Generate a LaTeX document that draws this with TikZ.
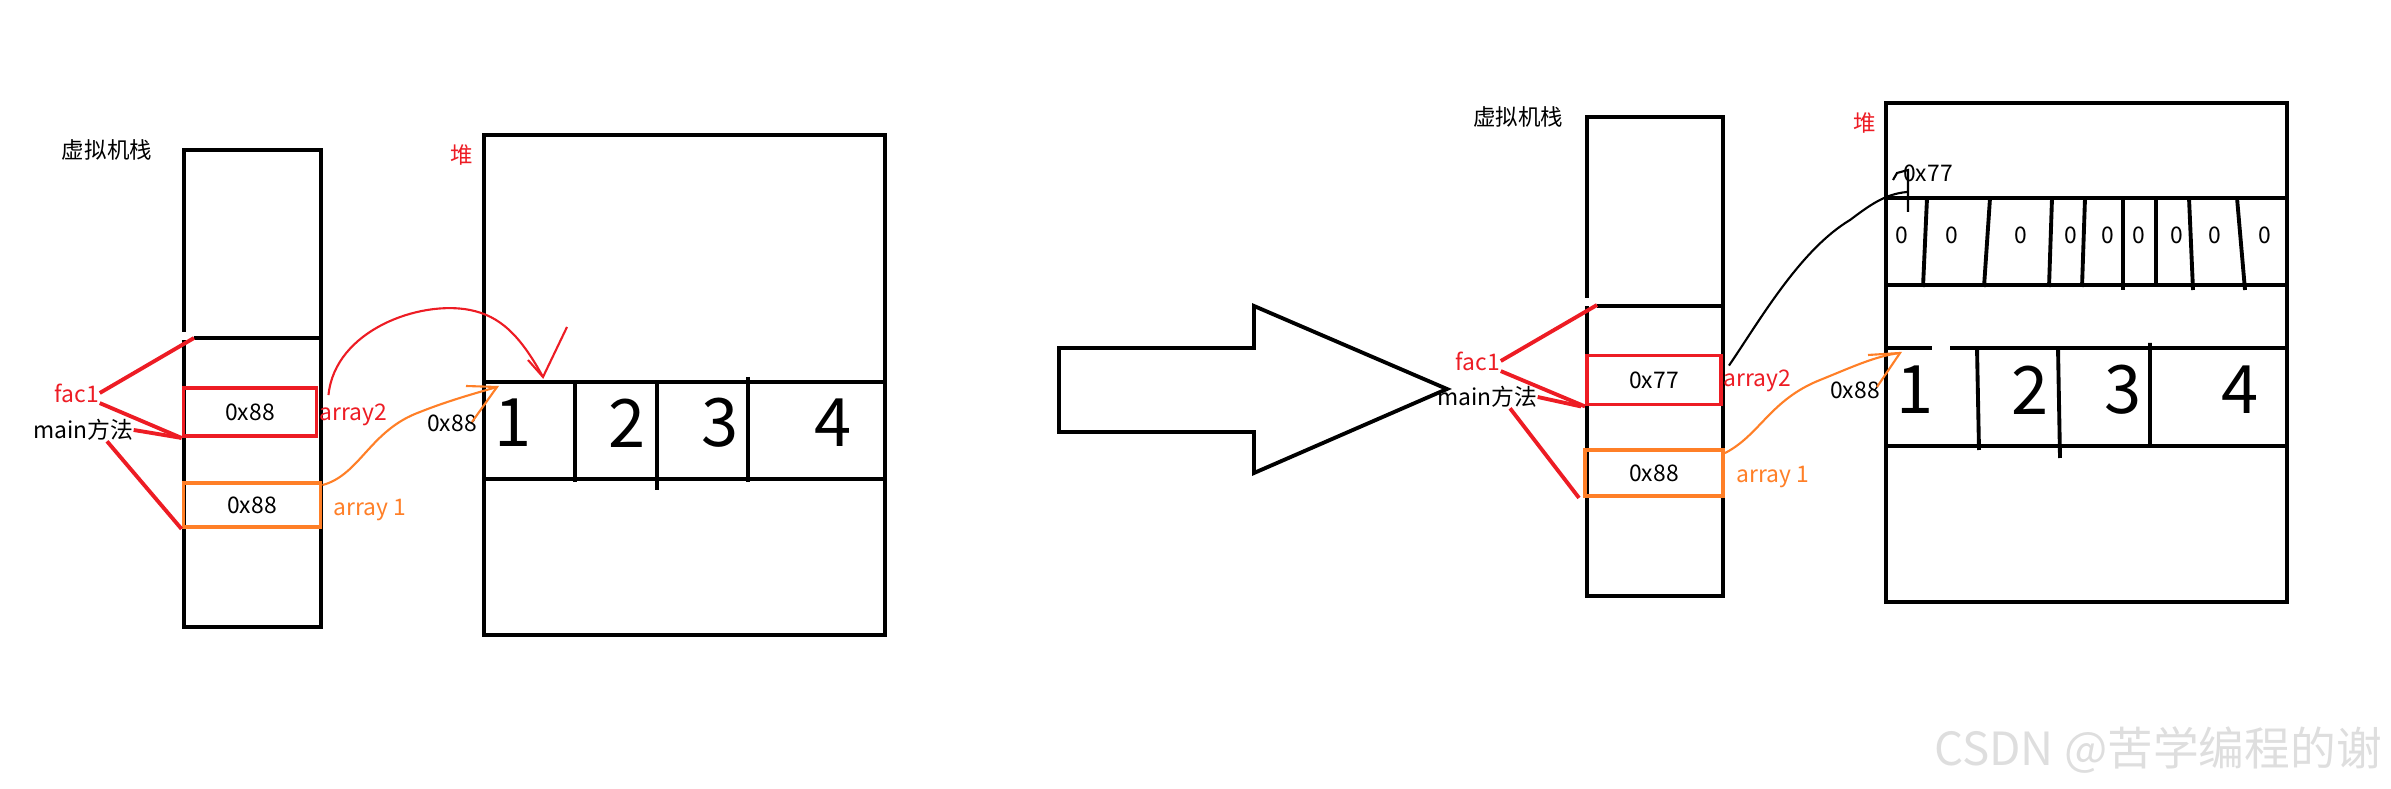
\documentclass[tikz,border=0pt]{standalone}
\usepackage{fontspec}
\setmainfont{Noto Sans CJK SC}
\usetikzlibrary{positioning}
\definecolor{penred}{RGB}{237,28,36}
\definecolor{penorange}{RGB}{255,127,39}

\begin{document}
\begin{tikzpicture}[
			x=0.01cm, y=-0.01cm,
			frame/.style={draw, line width=1.1pt},
			slot/.style={draw, line width=1.1pt, inner sep=0pt, font=\fontsize{6.5}{7}\selectfont},
			lbl/.style={inner sep=0pt, font=\fontsize{6.5}{7}\selectfont},
			cjk/.style={inner sep=0pt, font=\fontsize{6.4}{7}\selectfont},
			digit/.style={inner sep=0pt, font=\fontsize{19}{20}\selectfont},
			zero/.style={inner sep=0pt, font=\fontsize{6.5}{7}\selectfont},
			pen/.style={line width=1.1pt, penred},
			ink/.style={line width=0.6pt}
			]
			\useasboundingbox (0,0) rectangle (2391,789);
			
			% Stack before
			\draw[frame] (184,332) -- (184,150) -- (321,150) -- (321,627) -- (184,627) -- (184,340);
			\draw[frame] (194,338) -- (321,338);
			\coordinate (frameA) at (194,338);
			\node[slot, draw=penred, minimum width=1.33cm, minimum height=0.48cm] (fac1A) at (250,412) {0x88};
			\node[slot, draw=penorange, minimum width=1.37cm, minimum height=0.44cm] (mainA) at (252,505) {0x88};
			\node[cjk] (vmA) at (107,150) {虚拟机栈};
			\node[lbl, text=penred] (facA) at (77,393) {fac1};
			\node[lbl] (mthA) at (83,430) {main方法};
			\node[lbl, text=penred] (arr2A) at (353,415) {array2};
			\node[lbl, text=penorange] (arr1A) at (370,510) {array 1};
			
			\draw[pen] (facA.east) -- (frameA);
			\draw[pen] (facA.south east) -- (fac1A.south west);
			\draw[pen] (mthA.east) -- (fac1A.south west);
			\draw[pen] ([xshift=0.24cm]mthA.south) -- (mainA.south west);
			
			% Heap before
			\draw[frame] (484,135) rectangle (885,635);
			\draw[frame] (484,382) -- (885,382) (484,479) -- (885,479);
			\draw[frame] (575,382) -- (575,482) (657,382) -- (657,490) (748,377) -- (748,482);
			\node[cjk, text=penred] (heapA) at (462,155) {堆};
			\node[digit] (a1) at (513,423) {1};
			\node[digit] (a2) at (627,423) {2};
			\node[digit] (a3) at (720,423) {3};
			\node[digit] (a4) at (833,423) {4};
			\node[lbl] (adrA) at (452,423) {0x88};
			\coordinate (tipA) at (543,377);
			\coordinate (tipB) at (497,387);
			
			% Pointers before
			\draw[ink, penred] ([xshift=0.1cm, yshift=-0.09cm]fac1A.north east) .. controls (335,330) and (420,300) .. (470,310) .. controls (500,316) and (520,335) .. (tipA);
			\draw[ink, penred] (528,360) -- (tipA) -- (567,327);
			\draw[ink, penorange] ([yshift=-0.04cm]mainA.north east) .. controls (360,475) and (370,430) .. (420,412) .. controls (450,400) and (480,392) .. (tipB);
			\draw[ink, penorange] (466,386) -- (tipB) -- (472,422);
			
			% Big arrow
			\draw[frame] (1059,348) -- (1254,348) -- (1254,306) -- (1447,389) -- (1254,473) -- (1254,432) -- (1059,432) -- cycle;
			
			% Stack after
			\draw[frame] (1587,298) -- (1587,117) -- (1723,117) -- (1723,596) -- (1587,596) -- (1587,306);
			\draw[frame] (1597,306) -- (1723,306);
			\coordinate (frameB) at (1597,305);
			\node[slot, draw=penred, minimum width=1.34cm, minimum height=0.49cm] (fac1B) at (1654,380) {0x77};
			\node[slot, draw=penorange, minimum width=1.38cm, minimum height=0.46cm] (mainB) at (1654,473) {0x88};
			\node[cjk] (vmB) at (1518,117) {虚拟机栈};
			\node[lbl, text=penred] (facB) at (1478,361) {fac1};
			\node[lbl] (mthB) at (1487,397) {main方法};
			\node[lbl, text=penred] (arr2B) at (1757,381) {array2};
			\node[lbl, text=penorange] (arr1B) at (1773,477) {array 1};
			
			\draw[pen] (facB.east) -- (frameB);
			\draw[pen] (facB.south east) -- (fac1B.south west);
			\draw[pen] (mthB.east) -- ([xshift=-0.04cm]fac1B.south west);
			\draw[pen] ([xshift=0.23cm]mthB.south) -- ([xshift=-0.04cm]mainB.south west);
			
			% Heap after
			\draw[frame] (1886,103) rectangle (2287,602);
			\draw[frame] (1886,198) -- (2287,198) (1886,285) -- (2287,285);
			\draw[frame] (1927,198) -- (1923,287) (1990,198) -- (1984,287) (2052,198) -- (2049,287)
				(2085,198) -- (2082,287) (2123,198) -- (2123,290) (2156,198) -- (2156,287)
				(2189,198) -- (2193,290) (2237,198) -- (2245,290);
			\foreach \zx [count=\i] in {1902,1952,2021,2071,2108,2139,2177,2215,2265}
				\node[zero] (z\i) at (\zx,235) {0};
			\draw[frame] (1886,348) -- (1932,348) (1950,348) -- (2287,348) (1886,446) -- (2287,446);
			\draw[frame] (1977,348) -- (1979,450) (2058,348) -- (2060,458) (2150,343) -- (2150,446);
			\node[cjk, text=penred] (heapB) at (1865,123) {堆};
			\node[digit] (b1) at (1915,390) {1};
			\node[digit] (b2) at (2030,390) {2};
			\node[digit] (b3) at (2123,390) {3};
			\node[digit] (b4) at (2240,390) {4};
			\node[lbl] (adrB) at (1855,390) {0x88};
			\node[lbl] (adrC) at (1928,173) {0x77};
			\coordinate (tipC) at (1907,192);
			\coordinate (tipD) at (1900,353);
			
			% Pointers after
			\draw[ink] ([xshift=0.06cm, yshift=-0.12cm]fac1B.north east) .. controls (1760,320) and (1800,250) .. (1850,220) .. controls (1870,205) and (1885,194) .. (tipC);
			\draw[ink] (1908,212) -- (1908,170) -- (1897,173) -- (1893,180);
			\draw[ink, penorange] ([yshift=-0.05cm]mainB.north east) .. controls (1760,435) and (1770,400) .. (1820,380) .. controls (1850,368) and (1875,356) .. (tipD);
			\draw[ink, penorange] (1868,355) -- (tipD) -- (1877,387);
			
			% Watermark
			\node[inner sep=0pt, font=\fontsize{13}{14}\selectfont, text=black!13] (mark) at (2158,750) {CSDN @苦学编程的谢};
			
		\end{tikzpicture}
\end{document}
